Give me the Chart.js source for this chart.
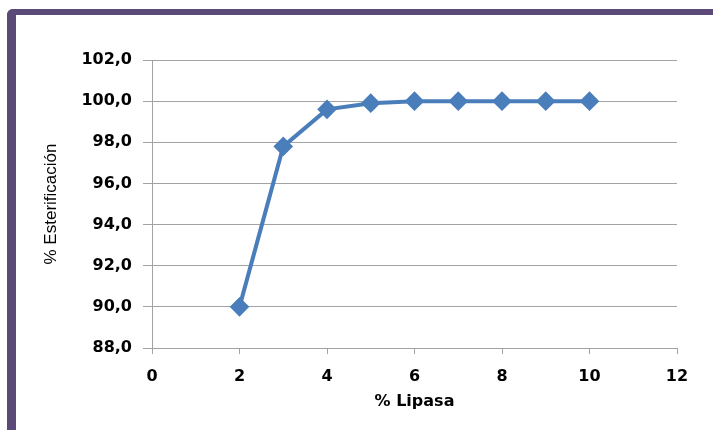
<!DOCTYPE html>
<html>
<head>
<meta charset="utf-8">
<script src="https://cdn.jsdelivr.net/npm/chart.js@4"></script>
<style>
  html, body { margin: 0; padding: 0; background: #ffffff; }
  #wrap { position: relative; width: 713px; height: 430px; overflow: hidden; }
  #frame {
    position: absolute; left: 7px; top: 9px; width: 720px; height: 440px;
    box-sizing: border-box;
    border-left: 9px solid #5b4a78; border-top: 6px solid #5b4a78;
    border-top-left-radius: 6px;
  }
  #chart { position: absolute; left: 0; top: 0; }
</style>
</head>
<body>
<div id="wrap">
  <div id="frame"></div>
  <canvas id="chart" width="713" height="430"></canvas>
</div>
<script>
// Lipase loading (%) against esterification yield (%)
const lipasa = [2, 3, 4, 5, 6, 7, 8, 9, 10];
const esterificacion = [90.0, 97.8, 99.6, 99.9, 100.0, 100.0, 100.0, 100.0, 100.0];
const xTicks = [0, 2, 4, 6, 8, 10, 12];
const yTicks = [88, 90, 92, 94, 96, 98, 100, 102];

const gridColor = '#a3a3a3';
const tickFont = { family: '"DejaVu Sans", Verdana, sans-serif', size: 16, weight: 'bold' };

new Chart(document.getElementById('chart'), {
  type: 'line',
  data: {
    datasets: [{
      data: lipasa.map((x, i) => ({ x: x, y: esterificacion[i] })),
      borderColor: '#4a7ebb',
      backgroundColor: '#4a7ebb',
      borderWidth: 4,
      pointStyle: 'rectRot',
      pointRadius: 7,
      pointHoverRadius: 7,
      tension: 0
    }]
  },
  options: {
    responsive: false,
    animation: false,
    layout: { padding: { top: 60, right: 36, left: 0, bottom: 0 } },
    plugins: { legend: { display: false }, tooltip: { enabled: false } },
    scales: {
      x: {
        type: 'linear',
        min: xTicks[0],
        max: xTicks[xTicks.length - 1],
        afterBuildTicks: s => { s.ticks = xTicks.map(v => ({ value: v })); },
        afterFit: s => { s.height = 82; },
        grid: { drawOnChartArea: false, drawTicks: true, tickLength: 6, color: gridColor },
        border: { display: true, color: gridColor },
        ticks: { color: '#000', font: tickFont, padding: 13, maxRotation: 0 },
        title: {
          display: true, text: '% Lipasa', color: '#000',
          font: { family: '"DejaVu Sans", Verdana, sans-serif', size: 16, weight: 'bold' },
          padding: { top: 0, bottom: 19 }
        }
      },
      y: {
        type: 'linear',
        min: yTicks[0],
        max: yTicks[yTicks.length - 1],
        afterBuildTicks: s => { s.ticks = yTicks.map(v => ({ value: v })); },
        afterFit: s => { s.width = 152; },
        grid: { drawOnChartArea: true, drawTicks: true, tickLength: 9, color: gridColor },
        border: { display: true, color: gridColor },
        ticks: {
          color: '#000', font: tickFont, padding: 11,
          callback: v => v.toFixed(1).replace('.', ',')
        },
        title: {
          display: true, text: '% Esterificación', color: '#000',
          font: { family: '"Liberation Sans", Arial, sans-serif', size: 17, weight: 'normal' },
          padding: { top: 41, bottom: 0 }
        }
      }
    }
  }
});
</script>
</body>
</html>
